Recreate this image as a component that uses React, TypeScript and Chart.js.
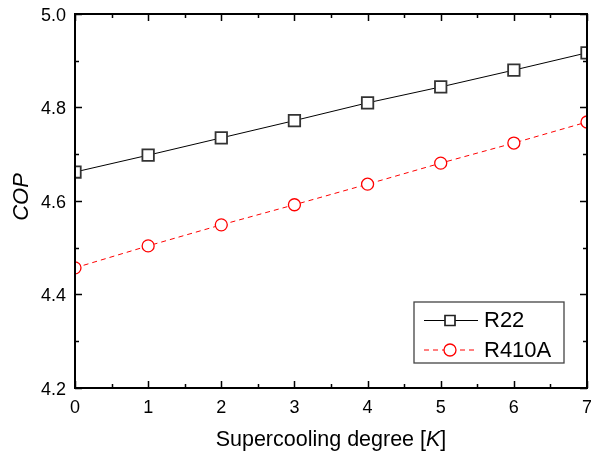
import React, { useEffect, useRef } from 'react';
import { Chart, registerables } from 'chart.js';

Chart.register(...registerables);

// ---- data ----
const supercooling = [0, 1, 2, 3, 4, 5, 6, 7];
const copR22 = [4.662, 4.698, 4.735, 4.772, 4.81, 4.844, 4.88, 4.917];
const copR410A = [4.457, 4.504, 4.549, 4.592, 4.636, 4.681, 4.724, 4.769];
const seriesNames = ['R22', 'R410A'];
const seriesColors = ['#000000', '#ff0000'];
const xTickLabels = ['0', '1', '2', '3', '4', '5', '6', '7'];
const yTickLabels = ['4.2', '4.4', '4.6', '4.8', '5.0'];
const xTitleParts = ['Supercooling degree [', 'K', ']'];
const yTitle = 'COP';
const xRange = [0, 7];
const yRange = [4.2, 5.0];
const xMajorStep = 1;
const yMajorStep = 0.2;

const FONT = "'Liberation Sans', Arial, sans-serif";
const DASH = [5, 4];

function drawMarker(ctx: CanvasRenderingContext2D, kind: string, x: number, y: number, color: string) {
  ctx.save();
  ctx.setLineDash([]);
  ctx.fillStyle = '#fff';
  ctx.strokeStyle = color;
  ctx.lineWidth = kind === 'rect' ? 1.7 : 1.3;
  ctx.beginPath();
  if (kind === 'rect') {
    const s = 10;
    ctx.rect(x - s / 2, y - s / 2, s, s);
  } else {
    ctx.arc(x, y, 6, 0, Math.PI * 2);
  }
  ctx.fill();
  ctx.stroke();
  ctx.restore();
}

const decorPlugin = {
  id: 'decor',
  afterDraw(chart: any) {
    const { ctx, chartArea: a, scales } = chart;
    const xs = scales.x;
    const ys = scales.y;
    ctx.save();
    ctx.strokeStyle = '#000';
    ctx.lineWidth = 1.5;
    ctx.setLineDash([]);
    // x ticks (bottom & top)
    const nx = Math.round((xRange[1] - xRange[0]) / (xMajorStep / 2));
    for (let i = 0; i <= nx; i++) {
      const v = xRange[0] + (i * xMajorStep) / 2;
      const px = Math.round(xs.getPixelForValue(v)) + 0.5;
      const len = i % 2 === 0 ? 7 : 4;
      ctx.beginPath();
      ctx.moveTo(px, a.bottom);
      ctx.lineTo(px, a.bottom - len);
      ctx.moveTo(px, a.top);
      ctx.lineTo(px, a.top + len);
      ctx.stroke();
    }
    const ny = Math.round((yRange[1] - yRange[0]) / (yMajorStep / 2));
    for (let i = 0; i <= ny; i++) {
      const v = yRange[0] + (i * yMajorStep) / 2;
      const py = Math.round(ys.getPixelForValue(v)) + 0.5;
      const len = i % 2 === 0 ? 7 : 4;
      ctx.beginPath();
      ctx.moveTo(a.left, py);
      ctx.lineTo(a.left + len, py);
      ctx.moveTo(a.right, py);
      ctx.lineTo(a.right - len, py);
      ctx.stroke();
    }
    // frame
    ctx.lineWidth = 2;
    ctx.strokeRect(a.left, a.top, a.right - a.left, a.bottom - a.top);

    // tick labels
    ctx.fillStyle = '#000';
    ctx.font = `18px ${FONT}`;
    ctx.textBaseline = 'alphabetic';
    ctx.textAlign = 'center';
    xTickLabels.forEach((t, i) => {
      const v = xRange[0] + i * xMajorStep;
      ctx.fillText(t, xs.getPixelForValue(v), a.bottom + 25);
    });
    ctx.textAlign = 'right';
    yTickLabels.forEach((t, i) => {
      const v = yRange[0] + i * yMajorStep;
      ctx.fillText(t, a.left - 9, ys.getPixelForValue(v) + 6.5);
    });

    // legend
    const bw = 150;
    const bh = 61;
    const bx = a.right - 23 - bw;
    const by = a.bottom - 25 - bh;
    ctx.fillStyle = '#fff';
    ctx.fillRect(bx, by, bw, bh);
    ctx.strokeStyle = '#444';
    ctx.lineWidth = 1.3;
    ctx.strokeRect(bx, by, bw, bh);
    const kinds = ['rect', 'circle'];
    seriesNames.forEach((name, i) => {
      const ry = by + 18 + i * 29.5;
      ctx.save();
      ctx.strokeStyle = seriesColors[i];
      ctx.lineWidth = 1;
      ctx.setLineDash(i === 1 ? DASH : []);
      ctx.beginPath();
      ctx.moveTo(bx + 10, ry + 0.5);
      ctx.lineTo(bx + 64, ry + 0.5);
      ctx.stroke();
      ctx.restore();
      drawMarker(ctx, kinds[i], bx + 36, ry + 0.5, i === 0 ? '#222' : seriesColors[i]);
      ctx.fillStyle = '#000';
      ctx.font = `22px ${FONT}`;
      ctx.textAlign = 'left';
      ctx.textBaseline = 'middle';
      ctx.fillText(name, bx + 70, ry + 1);
    });

    // x title with italic K
    ctx.fillStyle = '#000';
    ctx.textBaseline = 'alphabetic';
    ctx.textAlign = 'left';
    const normal = `21.5px ${FONT}`;
    const italic = `italic 21.5px ${FONT}`;
    const fonts = [normal, italic, normal];
    let total = 0;
    const widths = xTitleParts.map((t, i) => {
      ctx.font = fonts[i];
      const w = ctx.measureText(t).width;
      total += w;
      return w;
    });
    let tx = (a.left + a.right) / 2 - total / 2;
    xTitleParts.forEach((t, i) => {
      ctx.font = fonts[i];
      ctx.fillText(t, tx, 446);
      tx += widths[i];
    });

    // y title
    ctx.save();
    ctx.translate(28, (a.top + a.bottom) / 2 - 4);
    ctx.rotate(-Math.PI / 2);
    ctx.font = `italic 22px ${FONT}`;
    ctx.textAlign = 'center';
    ctx.textBaseline = 'alphabetic';
    ctx.fillText(yTitle, 0, 0);
    ctx.restore();

    ctx.restore();
  },
};

export default function App() {
  const ref = useRef<HTMLCanvasElement | null>(null);

  useEffect(() => {
    if (!ref.current) return;
    const chart = new Chart(ref.current, {
      type: 'line',
      data: {
        datasets: [
          {
            label: seriesNames[0],
            data: supercooling.map((x, i) => ({ x, y: copR22[i] })),
            borderColor: seriesColors[0],
            borderWidth: 1,
            pointStyle: 'rect',
            pointRadius: 8.1,
            pointBorderWidth: 1.8,
            pointBorderColor: '#333',
            pointBackgroundColor: '#fff',
            tension: 0,
            clip: 0,
          },
          {
            label: seriesNames[1],
            data: supercooling.map((x, i) => ({ x, y: copR410A[i] })),
            borderColor: seriesColors[1],
            borderWidth: 1,
            borderDash: DASH,
            pointStyle: 'circle',
            pointRadius: 6,
            pointBorderWidth: 1.3,
            pointBorderColor: seriesColors[1],
            pointBackgroundColor: '#fff',
            tension: 0,
            clip: 0,
          },
        ],
      },
      options: {
        responsive: false,
        animation: false,
        devicePixelRatio: 1,
        layout: { autoPadding: false, padding: { left: 0, right: 4, top: 14, bottom: 0 } },
        plugins: {
          legend: { display: false },
          tooltip: { enabled: false },
          title: { display: false },
        },
        scales: {
          x: {
            type: 'linear',
            min: xRange[0],
            max: xRange[1],
            grid: { display: false, drawTicks: false },
            border: { display: false },
            ticks: { display: false, stepSize: xMajorStep },
            afterFit: (s: any) => {
              s.height = 67;
            },
          },
          y: {
            type: 'linear',
            min: yRange[0],
            max: yRange[1],
            grid: { display: false, drawTicks: false },
            border: { display: false },
            ticks: { display: false, stepSize: yMajorStep },
            afterFit: (s: any) => {
              s.width = 75;
            },
          },
        },
      },
      plugins: [decorPlugin],
    } as any);
    return () => chart.destroy();
  }, []);

  return (
    <div style={{ position: 'absolute', left: 0, top: 0, width: 591, height: 455, background: '#fff' }}>
      <canvas ref={ref} width={591} height={455} style={{ display: 'block' }} />
    </div>
  );
}
